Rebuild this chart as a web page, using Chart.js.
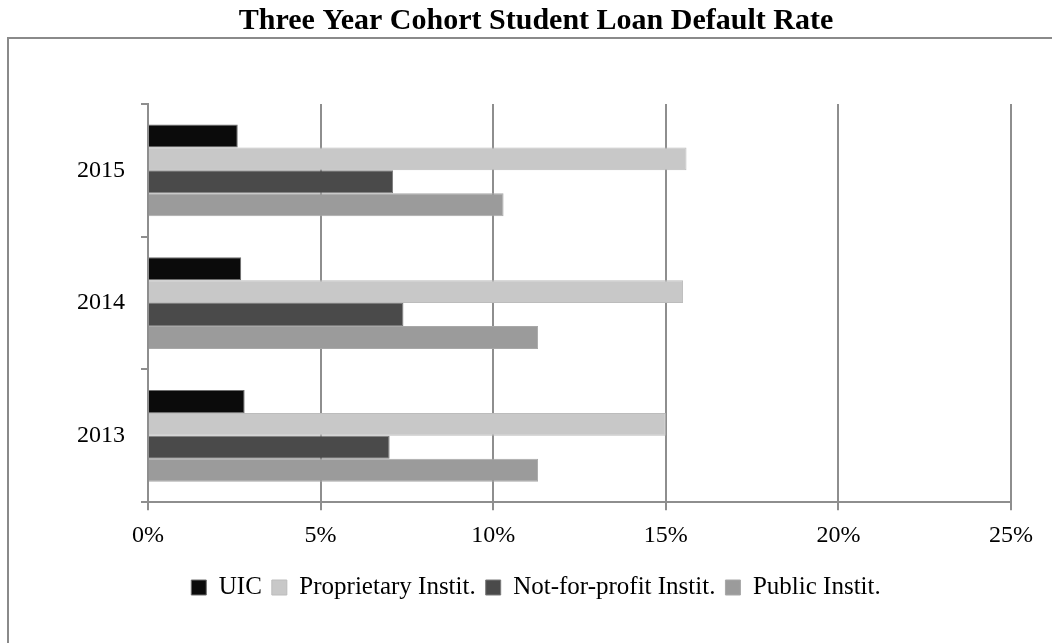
<!DOCTYPE html>
<html>
<head>
<meta charset="utf-8">
<title>Three Year Cohort Student Loan Default Rate</title>
<script src="https://cdn.jsdelivr.net/npm/chart.js@4"></script>
<style>
  body { margin: 0; background: #fff; }
</style>
</head>
<body>
<canvas id="loanChart" width="1052" height="643"></canvas>
<script>
/* global Chart */

const years = ['2015', '2014', '2013']
const uic = [2.6, 2.7, 2.8]
const proprietary = [15.6, 15.5, 15.0]
const notForProfit = [7.1, 7.4, 7.0]
const publicInst = [10.3, 11.3, 11.3]
const xTicks = [0, 5, 10, 15, 20, 25]

const gridGray = '#8e8e8e'
const serif = "'Liberation Serif', 'Times New Roman', serif"

// grey frame that runs off the right and bottom edges
const framePlugin = {
  id: 'frame',
  beforeDraw (chart) {
    const ctx = chart.ctx
    ctx.save()
    ctx.strokeStyle = '#8a8a8a'
    ctx.lineWidth = 2
    ctx.strokeRect(8, 38, 2000, 2000)
    ctx.restore()
  }
}

window.addEventListener('load', function () {
  const ctx = document.getElementById('loanChart').getContext('2d')
  // eslint-disable-next-line no-unused-vars
  const loanChart = new Chart(ctx, {
    type: 'bar',
    data: {
      labels: years,
      datasets: [
        { label: 'UIC', data: uic, backgroundColor: '#0b0b0b', borderColor: '#6e6e6e', borderWidth: 1 },
        { label: 'Proprietary Instit.', data: proprietary, backgroundColor: '#c8c8c8', borderColor: '#bcbcbc', borderWidth: 1 },
        { label: 'Not-for-profit Instit.', data: notForProfit, backgroundColor: '#4a4a4a', borderColor: '#7a7a7a', borderWidth: 1 },
        { label: 'Public Instit.', data: publicInst, backgroundColor: '#9b9b9b', borderColor: '#a8a8a8', borderWidth: 1 }
      ]
    },
    options: {
      indexAxis: 'y',
      responsive: false,
      animation: false,
      devicePixelRatio: 1,
      categoryPercentage: 0.69,
      barPercentage: 1.0,
      layout: { padding: { left: 61, right: 41, top: 0, bottom: 33 } },
      scales: {
        x: {
          min: 0,
          max: 25,
          afterBuildTicks: (axis) => { axis.ticks = xTicks.map(v => ({ value: v })) },
          afterFit: (axis) => { axis.height += 4 },
          ticks: {
            color: '#000',
            padding: 11,
            font: { family: serif, size: 24 },
            callback: (v) => v + '%'
          },
          grid: { color: gridGray, lineWidth: 2, tickLength: 8 },
          border: { color: gridGray, width: 2 }
        },
        y: {
          afterFit: (axis) => { axis.width = 87 },
          ticks: {
            color: '#000',
            padding: 16,
            font: { family: serif, size: 24 }
          },
          grid: { drawOnChartArea: false, color: gridGray, lineWidth: 2, tickLength: 7 },
          border: { color: gridGray, width: 2 }
        }
      },
      plugins: {
        title: {
          display: true,
          text: 'Three Year Cohort Student Loan Default Rate',
          color: '#000',
          font: { family: serif, size: 30, weight: 'bold' },
          padding: { top: 3, bottom: 65 }
        },
        legend: {
          display: true,
          position: 'bottom',
          onClick: (e) => e.stopPropagation(),
          labels: {
            color: '#000',
            boxWidth: 15,
            boxHeight: 15,
            padding: 10,
            font: { family: serif, size: 25 }
          }
        },
        tooltip: { enabled: false }
      }
    },
    plugins: [framePlugin]
  })
})
</script>
</body>
</html>
